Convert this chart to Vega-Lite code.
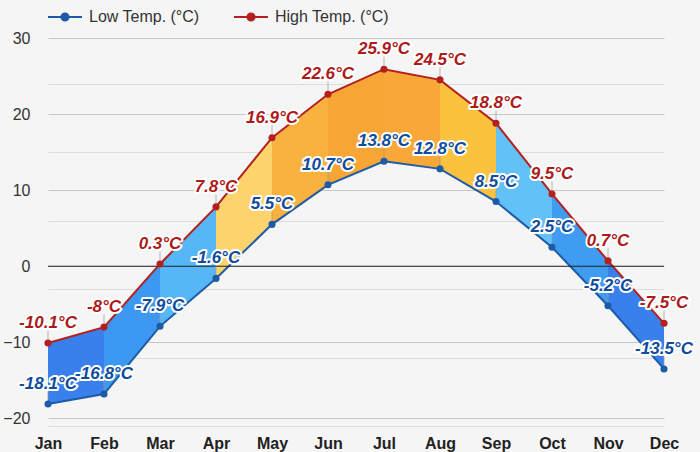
{
  "$schema": "https://vega.github.io/schema/vega-lite/v6.json",
  "width": 616,
  "height": 388,
  "autosize": {"type": "none"},
  "padding": {"left": 48, "top": 38, "right": 36, "bottom": 26},
  "background": "#f5f5f5",
  "config": {"view": {"stroke": null}, "font": "Liberation Sans"},
  "datasets": {
    "temps": [
      {"month": "Jan", "low": -18.1, "high": -10.1},
      {"month": "Feb", "low": -16.8, "high": -8},
      {"month": "Mar", "low": -7.9, "high": 0.3},
      {"month": "Apr", "low": -1.6, "high": 7.8},
      {"month": "May", "low": 5.5, "high": 16.9},
      {"month": "Jun", "low": 10.7, "high": 22.6},
      {"month": "Jul", "low": 13.8, "high": 25.9},
      {"month": "Aug", "low": 12.8, "high": 24.5},
      {"month": "Sep", "low": 8.5, "high": 18.8},
      {"month": "Oct", "low": 2.5, "high": 9.5},
      {"month": "Nov", "low": -5.2, "high": 0.7},
      {"month": "Dec", "low": -13.5, "high": -7.5}
    ],
    "segments": [
      {"seg": "s1", "month": "Jan", "low": -18.1, "high": -10.1},
      {"seg": "s1", "month": "Feb", "low": -16.8, "high": -8},
      {"seg": "s2", "month": "Feb", "low": -16.8, "high": -8},
      {"seg": "s2", "month": "Mar", "low": -7.9, "high": 0.3},
      {"seg": "s3", "month": "Mar", "low": -7.9, "high": 0.3},
      {"seg": "s3", "month": "Apr", "low": -1.6, "high": 7.8},
      {"seg": "s4", "month": "Apr", "low": -1.6, "high": 7.8},
      {"seg": "s4", "month": "May", "low": 5.5, "high": 16.9},
      {"seg": "s5", "month": "May", "low": 5.5, "high": 16.9},
      {"seg": "s5", "month": "Jun", "low": 10.7, "high": 22.6},
      {"seg": "s6", "month": "Jun", "low": 10.7, "high": 22.6},
      {"seg": "s6", "month": "Jul", "low": 13.8, "high": 25.9},
      {"seg": "s7", "month": "Jul", "low": 13.8, "high": 25.9},
      {"seg": "s7", "month": "Aug", "low": 12.8, "high": 24.5},
      {"seg": "s8", "month": "Aug", "low": 12.8, "high": 24.5},
      {"seg": "s8", "month": "Sep", "low": 8.5, "high": 18.8},
      {"seg": "s9", "month": "Sep", "low": 8.5, "high": 18.8},
      {"seg": "s9", "month": "Oct", "low": 2.5, "high": 9.5},
      {"seg": "s10", "month": "Oct", "low": 2.5, "high": 9.5},
      {"seg": "s10", "month": "Nov", "low": -5.2, "high": 0.7},
      {"seg": "s11", "month": "Nov", "low": -5.2, "high": 0.7},
      {"seg": "s11", "month": "Dec", "low": -13.5, "high": -7.5}
    ]
  },
  "resolve": {"scale": {"color": "independent"}, "axis": {"y": "independent"}},
  "layer": [
    {
      "data": {"name": "segments"},
      "mark": {"type": "area", "opacity": 1},
      "encoding": {
        "x": {
          "field": "month", "type": "nominal", "title": null,
          "scale": {"type": "point", "padding": 0, "domain": ["Jan","Feb","Mar","Apr","May","Jun","Jul","Aug","Sep","Oct","Nov","Dec"]},
          "axis": {"labelAngle": 0, "labelFontSize": 16, "labelFontWeight": "bold", "labelColor": "#222", "ticks": false, "domain": false, "grid": false, "labelPadding": 9}
        },
        "y": {
          "field": "low", "type": "quantitative", "title": null,
          "scale": {"domain": [-21, 30], "nice": false, "zero": false},
          "axis": {
            "orient": "left",
            "values": [-20, -10, 0, 10, 20, 30],
            "labelOverlap": false,
            "grid": true,
            "ticks": false, "domain": false,
            "labelFontSize": 16, "labelColor": "#333", "labelPadding": 18,
            "gridColor": "#c8c8c8",
            "gridWidth": 1
          }
        },
        "y2": {"field": "high"},
        "color": {
          "field": "seg", "type": "nominal", "legend": null,
          "scale": {
            "domain": ["s1","s2","s3","s4","s5","s6","s7","s8","s9","s10","s11"],
            "range": ["#3a80ec","#3d98f2","#56b6f6","#fcd36c","#f9b13f","#f7a535","#f8a838","#fac23f","#62c2f7","#3f9cf1","#3a80ec"]
          }
        },
        "detail": {"field": "seg"}
      }
    },
    {
      "layer": [
        {
          "data": {"name": "temps"},
          "transform": [{"fold": ["low", "high"], "as": ["series", "temp"]}],
          "mark": {"type": "line", "strokeWidth": 2},
          "encoding": {
            "x": {"field": "month", "type": "nominal", "title": null},
            "y": {
              "field": "temp", "type": "quantitative", "title": null,
              "axis": {
                "orient": "left",
                "grid": true,
                "values": [-21,-19,-18,-17,-16,-15,-14,-13,-12,-11,-9,-8,-7,-6,-5,-4,-3,-2,-1,1,2,3,4,5,6,7,8,9,11,12,13,14,15,16,17,18,19,21,22,23,24,25,26,27,28,29],
                "labels": false, "ticks": false, "domain": false,
                "gridColor": "#dcdcdc", "gridWidth": 1
              }
            },
            "color": {
              "field": "series", "type": "nominal",
              "scale": {"domain": ["low", "high"], "range": ["#1d5ba6", "#b3201e"]},
              "legend": {
                "orient": "none", "legendX": -1, "legendY": -39, "direction": "horizontal", "title": null,
                "symbolType": "M-1,0L1,0M0.21,0A0.21,0.21,0,1,1,-0.21,0A0.21,0.21,0,1,1,0.21,0Z",
                "symbolSize": 1156, "symbolStrokeWidth": 2,
                "labelFontSize": 16, "labelColor": "#333", "labelOffset": 6, "columnPadding": 30,
                "labelExpr": "datum.value == 'low' ? 'Low Temp. (°C)' : 'High Temp. (°C)'",
                "encode": {"symbols": {"update": {"fill": {"scale": "color", "field": "value"}, "stroke": {"scale": "color", "field": "value"}, "strokeWidth": {"value": 2}, "opacity": {"value": 1}}}}
              }
            },
            "detail": {"field": "series"}
          }
        },
        {
          "data": {"values": [{}]},
          "mark": {"type": "rule", "color": "#222", "strokeWidth": 1},
          "encoding": {"y": {"datum": 0, "type": "quantitative", "title": null}}
        },
        {
          "data": {"name": "temps"},
          "transform": [{"fold": ["low", "high"], "as": ["series", "temp"]}],
          "mark": {"type": "tick", "orient": "vertical", "size": 9, "thickness": 1, "color": "#9a9a9a", "yOffset": -8},
          "encoding": {
            "x": {"field": "month", "type": "nominal", "title": null},
            "y": {"field": "temp", "type": "quantitative", "title": null}
          }
        },
        {
          "data": {"name": "temps"},
          "transform": [{"fold": ["low", "high"], "as": ["series", "temp"]}],
          "mark": {"type": "point", "filled": true, "size": 50, "opacity": 1},
          "encoding": {
            "x": {"field": "month", "type": "nominal", "title": null},
            "y": {"field": "temp", "type": "quantitative", "title": null},
            "color": {"field": "series", "type": "nominal"}
          }
        },
        {
          "data": {"name": "temps"},
          "transform": [{"fold": ["low", "high"], "as": ["series", "temp"]}, {"calculate": "datum.temp + '°C'", "as": "label"}],
          "mark": {"type": "text", "fontSize": 17, "fontWeight": "bold", "fontStyle": "italic", "dy": -20, "baseline": "middle", "align": "center", "fill": "white", "stroke": "white", "strokeWidth": 4, "strokeJoin": "round"},
          "encoding": {
            "x": {"field": "month", "type": "nominal", "title": null},
            "y": {"field": "temp", "type": "quantitative", "title": null},
            "text": {"field": "label"}
          }
        },
        {
          "data": {"name": "temps"},
          "transform": [{"fold": ["low", "high"], "as": ["series", "temp"]}, {"calculate": "datum.temp + '°C'", "as": "label"}],
          "mark": {"type": "text", "fontSize": 17, "fontWeight": "bold", "fontStyle": "italic", "dy": -20, "baseline": "middle", "align": "center"},
          "encoding": {
            "x": {"field": "month", "type": "nominal", "title": null},
            "y": {"field": "temp", "type": "quantitative", "title": null},
            "text": {"field": "label"},
            "color": {"condition": {"test": "datum.series === 'low'", "value": "#0f4c9c"}, "value": "#ad1a1a"}
          }
        }
      ]
    }
  ]
}
